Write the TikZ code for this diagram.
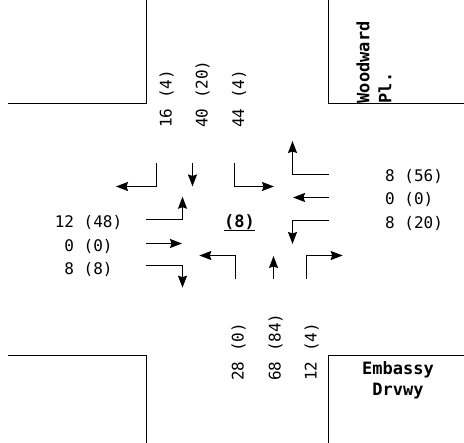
\documentclass[tikz,border=0pt]{standalone}
\usepackage{fontspec}
\setmonofont{DejaVu Sans Mono}
\usetikzlibrary{arrows.meta}
\tikzset{
  x=1pt,y=-1pt,
  curb/.style={draw=black,line width=1.5pt},
  mv/.style={draw=black,line width=1.5pt,-{Stealth[length=12pt,width=9pt,inset=1.5pt]}},
  vol/.style={font=\fontsize{16}{20}\selectfont\ttfamily,inner sep=0pt},
  street/.style={font=\fontsize{17}{20}\selectfont\ttfamily\bfseries,inner sep=0pt},
}
\begin{document}
\begin{tikzpicture}
\useasboundingbox (0,0) rectangle (464,443);
\path[fill=white] (0,0) rectangle (464,443);
% curbs
\draw[curb] (8,103.5) -- (146.5,103.5) -- (146.5,0);
\draw[curb] (328.5,0) -- (328.5,103.5) -- (464,103.5);
\draw[curb] (8,355.5) -- (146.5,355.5) -- (146.5,443);
\draw[curb] (328.5,443) -- (328.5,355.5) -- (464,355.5);
% southbound
\draw[mv] (156.5,163) -- (156.5,186.5) -- (116,186.5);
\draw[mv] (192.5,163) -- (192.5,186.5);
\draw[mv] (234.5,163) -- (234.5,186.5) -- (274,186.5);
% westbound
\draw[mv] (328.5,174.5) -- (292.5,174.5) -- (292.5,141);
\draw[mv] (328.5,197.5) -- (293,197.5);
\draw[mv] (328.5,220.5) -- (292.5,220.5) -- (292.5,244);
% eastbound
\draw[mv] (146,219.5) -- (182.5,219.5) -- (182.5,196.7);
\draw[mv] (146,243.5) -- (182,243.5);
\draw[mv] (146,265.5) -- (182.5,265.5) -- (182.5,287.7);
% northbound
\draw[mv] (235.5,278.7) -- (235.5,255.5) -- (199.3,255.5);
\draw[mv] (273.5,278.7) -- (273.5,256);
\draw[mv] (306.5,278.7) -- (306.5,255.5) -- (342.7,255.5);
% centre
\node[street,anchor=center] (pk) at (239.5,222) {(8)};
\draw[line width=1.2pt] (224,230.5) -- (255,230.5);
% top volumes
\node[vol,rotate=90,anchor=west] (s1) at (166.7,128) {16 (4)};
\node[vol,rotate=90,anchor=west] (s2) at (202.7,128) {40 (20)};
\node[vol,rotate=90,anchor=west] (s3) at (239,128) {44 (4)};
% bottom volumes
\node[vol,rotate=90,anchor=west] (n1) at (238.5,381) {28 (0)};
\node[vol,rotate=90,anchor=west] (n2) at (275.5,381) {68 (84)};
\node[vol,rotate=90,anchor=west] (n3) at (311.7,381) {12 (4)};
% right volumes
\node[vol,anchor=west] (w1) at (385,176.5) {8 (56)};
\node[vol,anchor=west] (w2) at (385,199.5) {0 (0)};
\node[vol,anchor=west] (w3) at (385,223) {8 (20)};
% left volumes
\node[vol] (e1) at (88.5,222.5) {12 (48)};
\node[vol] (e2) at (88.5,246) {0 (0)};
\node[vol] (e3) at (88.5,269.5) {8 (8)};
% streets
\node[street,rotate=90,anchor=west] (wd1) at (363,103.5) {Woodward};
\node[street,rotate=90,anchor=west] (wd2) at (385,103.5) {Pl.};
\node[street] (em1) at (398,369.5) {Embassy};
\node[street] (em2) at (398,391) {Drvwy};
\end{tikzpicture}
\end{document}
